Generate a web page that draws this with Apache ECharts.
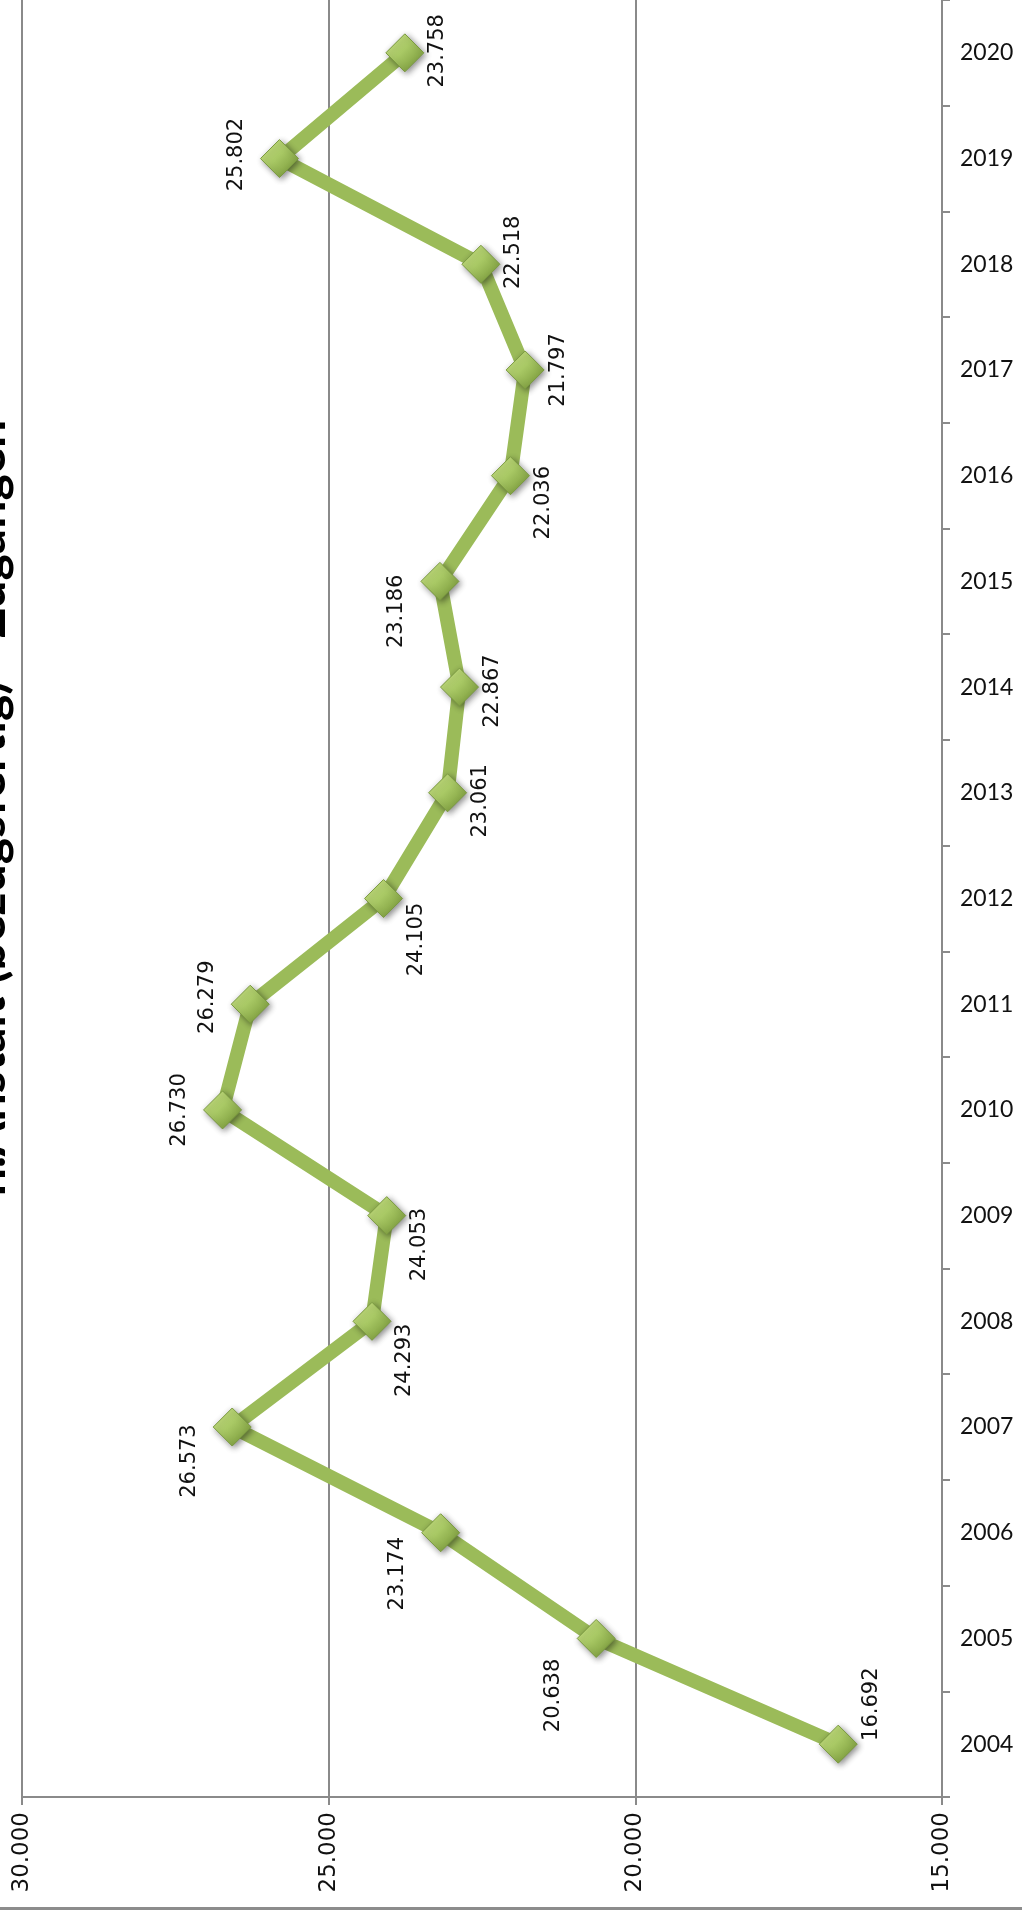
<!DOCTYPE html>
<html>
<head>
<meta charset="utf-8">
<script src="https://cdn.jsdelivr.net/npm/echarts@6/dist/echarts.min.js"></script>
<style>
  html, body { margin: 0; padding: 0; background: #fff; }
  #chart { width: 1022px; height: 1910px; box-sizing: border-box; border-bottom: 3px solid #8c8c8c; }
</style>
</head>
<body>
<div id="chart"></div>
<script>
// Daten
const years = ['2004', '2005', '2006', '2007', '2008', '2009', '2010', '2011', '2012',
               '2013', '2014', '2015', '2016', '2017', '2018', '2019', '2020'];
const values = [16.692, 20.638, 23.174, 26.573, 24.293, 24.053, 26.730, 26.279, 24.105,
                23.061, 22.867, 23.186, 22.036, 21.797, 22.518, 25.802, 23.758];
const valueTicks = [15, 20, 25, 30];
const titleText = 'n.Anstalt (bezugsfertig) - Zugängen';

// Beschriftung: Seite (links/rechts vom Punkt) und Verschiebung (px) nach unten
const labelSide = ['right', 'left', 'left', 'left', 'right', 'right', 'left', 'left', 'right',
                   'right', 'right', 'left', 'right', 'right', 'right', 'left', 'right'];
const labelShift = [-40, 57, 41, 34, 39, 29, 0, -7, 41, 8, 4, 30, 27, 0, -12, -4, -2];

const GREEN = '#9bbb59';
const chart = echarts.init(document.getElementById('chart'));

const markerColor = new echarts.graphic.LinearGradient(0, 0, 1, 1, [
    { offset: 0, color: '#d4ec8e' },
    { offset: 0.45, color: '#a9c965' },
    { offset: 1, color: '#6c8c2e' }
]);

// label is rotated 90°, so offset is given in the rotated frame: [-dy, dx]
const seriesData = values.map((v, i) => {
    const dx = labelSide[i] === 'right' ? 33 : -43;
    const dy = labelShift[i];
    return {
        value: [v, years[i]],
        label: { offset: [-dy, dx] }
    };
});

chart.setOption({
    backgroundColor: '#fff',
    animation: false,
    grid: { left: 22, right: 80, top: 0, bottom: 110, containLabel: false },
    xAxis: {
        type: 'value',
        inverse: true,
        min: valueTicks[0],
        max: valueTicks[valueTicks.length - 1],
        interval: 5,
        axisLine: { show: true, lineStyle: { color: '#8a8a8a', width: 2 } },
        axisTick: { show: true, length: 8, lineStyle: { color: '#8a8a8a', width: 2 } },
        splitLine: { show: true, lineStyle: { color: '#8a8a8a', width: 2 } },
        axisLabel: {
            rotate: 90,
            margin: 15,
            color: '#111',
            fontFamily: 'DejaVu Sans',
            fontSize: 23,
            formatter: v => v.toFixed(3)
        }
    },
    yAxis: {
        type: 'category',
        data: years,
        position: 'right',
        boundaryGap: true,
        axisLine: { show: true, lineStyle: { color: '#8a8a8a', width: 2 } },
        axisTick: { show: true, length: 8, lineStyle: { color: '#8a8a8a', width: 2 } },
        splitLine: { show: false },
        axisLabel: { margin: 18, color: '#111', fontFamily: 'Lato', fontSize: 23 }
    },
    graphic: [{
        type: 'text',
        x: 14,
        y: 808,
        rotation: Math.PI / 2,
        style: {
            text: titleText,
            fill: '#000',
            font: 'bold 50px Lato',
            textAlign: 'center',
            textVerticalAlign: 'bottom'
        }
    }],
    series: [{
        type: 'line',
        data: seriesData,
        symbol: 'diamond',
        symbolSize: 38,
        lineStyle: { color: GREEN, width: 14 },
        itemStyle: {
            color: markerColor,
            borderColor: '#7a9a40',
            borderWidth: 1,
            shadowColor: 'rgba(0,0,0,0.45)',
            shadowBlur: 6,
            shadowOffsetX: 2,
            shadowOffsetY: 2
        },
        label: {
            show: true,
            position: 'inside',
            align: 'center',
            verticalAlign: 'middle',
            rotate: 90,
            color: '#111',
            fontFamily: 'DejaVu Sans',
            fontSize: 21,
            formatter: p => p.value[0].toFixed(3)
        },
        z: 3
    }]
});
</script>
</body>
</html>
